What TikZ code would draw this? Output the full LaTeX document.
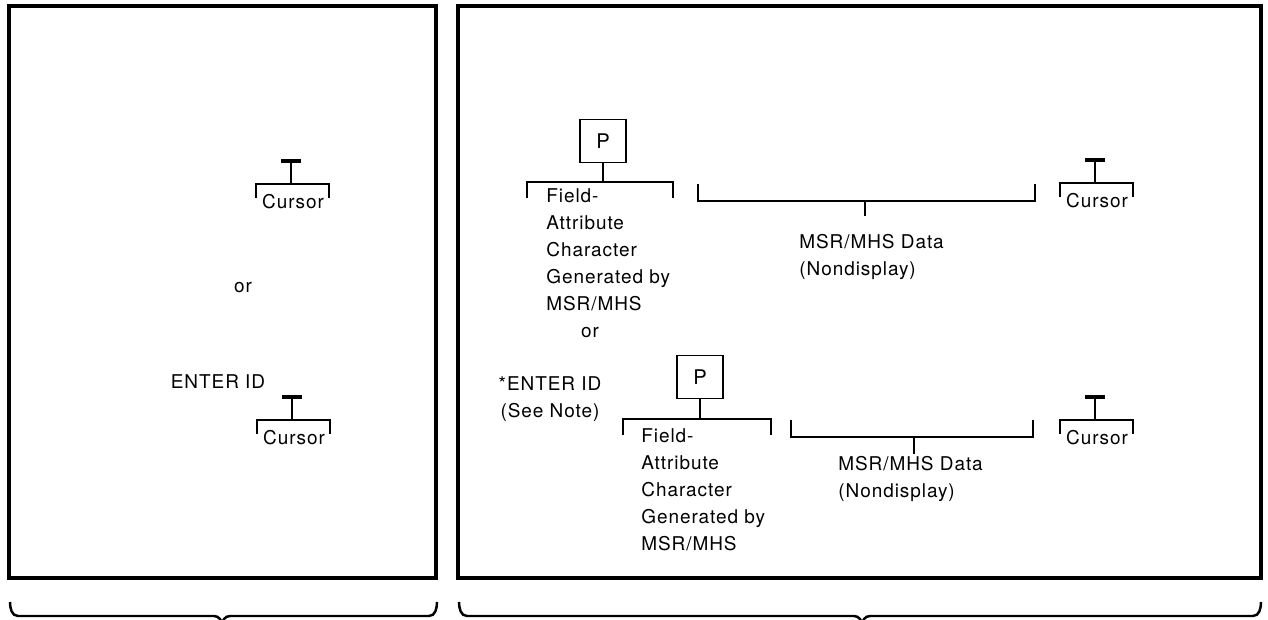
\documentclass[tikz,border=0pt]{standalone}
\usepackage{fontspec}
\setmainfont{TeX Gyre Heros}[LetterSpace=5]
\usetikzlibrary{positioning}

\begin{document}
\begin{tikzpicture}[x=0.02cm, y=-0.02cm,
    frame/.style={line width=2.3pt},
    brk/.style={line width=1pt},
    brace/.style={line width=1.4pt},
    lbl/.style={inner sep=0pt, font=\fontsize{10.8}{15.4}\selectfont},
    pbox/.style={draw, line width=1pt, minimum width=0.92cm, minimum height=0.86cm, inner sep=0pt, font=\fontsize{11.5}{13}\selectfont},
    curbar/.style={line width=2pt}]
    \useasboundingbox (0,0) rectangle (1268,619);
    % Screen frames
    \draw[frame] (9,6) rectangle (436,578);
    \draw[frame] (458,6) rectangle (1261,578);
    % Braces below the screens
    \draw[brace] (10,602) to[out=-90,in=180] (18,616) -- (214,616) to[out=0,in=90] (222,625)
        to[out=90,in=180] (230,616) -- (429,616) to[out=0,in=-90] (437,602);
    \draw[brace] (459,602) to[out=-90,in=180] (467,616) -- (854,616) to[out=0,in=90] (862,625)
        to[out=90,in=180] (870,616) -- (1253,616) to[out=0,in=-90] (1261,602);
    % Cursor marks
    \foreach \bx/\by [count=\i] in {291/161, 292/397, 1095/160, 1095/397} {
        \coordinate (bar\i) at (\bx,\by);
        \draw[curbar] ([xshift=-0.2cm]bar\i) -- ([xshift=0.2cm]bar\i);
        \draw[brk] (bar\i) -- (\bx,\by+23);
        \draw[brk] (\bx-35,\by+37) -- (\bx-35,\by+23) -- (\bx+38,\by+23) -- (\bx+38,\by+37);
        \node[lbl] (cur\i) at (\bx+2,\by+41) {Cursor};
    }
    % Left screen texts
    \node[lbl] (orl) at (243,288) {or};
    \node[lbl] (enterl) at (218,382) {ENTER ID};
    % Right screen, upper line
    \node[pbox] (pa) at (603,141) {P};
    \draw[brk] (pa.south) -- (603,182);
    \draw[brk] (527,198) -- (527,182) -- (673,182) -- (673,198);
    \node[lbl, anchor=west, align=left] (faa) at (546,250)
        {Field-\\Attribute\\Character\\Generated by\\MSR/MHS};
    \draw[brk] (698,184) -- (698,201) -- (1035,201) -- (1035,184);
    \draw[brk] (865,201) -- (865,216);
    \node[lbl, anchor=west, align=left] (data) at (799,257) {MSR/MHS Data\\(Nondisplay)};
    \node[lbl] (orr) at (590,333) {or};
    % Right screen, lower line
    \node[lbl, align=center] (enterr) at (550,399) {*ENTER ID\\(See Note)};
    \node[pbox] (pb) at (700,377) {P};
    \draw[brk] (pb.south) -- (700,419);
    \draw[brk] (623,435) -- (623,419) -- (771,419) -- (771,435);
    \node[lbl, anchor=west, align=left] (fab) at (641,490)
        {Field-\\Attribute\\Character\\Generated by\\MSR/MHS};
    \draw[brk] (791,420) -- (791,437) -- (1033,437) -- (1033,420);
    \draw[brk] (914,437) -- (914,454);
    \node[lbl, anchor=west, align=left] (datb) at (838,479) {MSR/MHS Data\\(Nondisplay)};
\end{tikzpicture}
\end{document}
